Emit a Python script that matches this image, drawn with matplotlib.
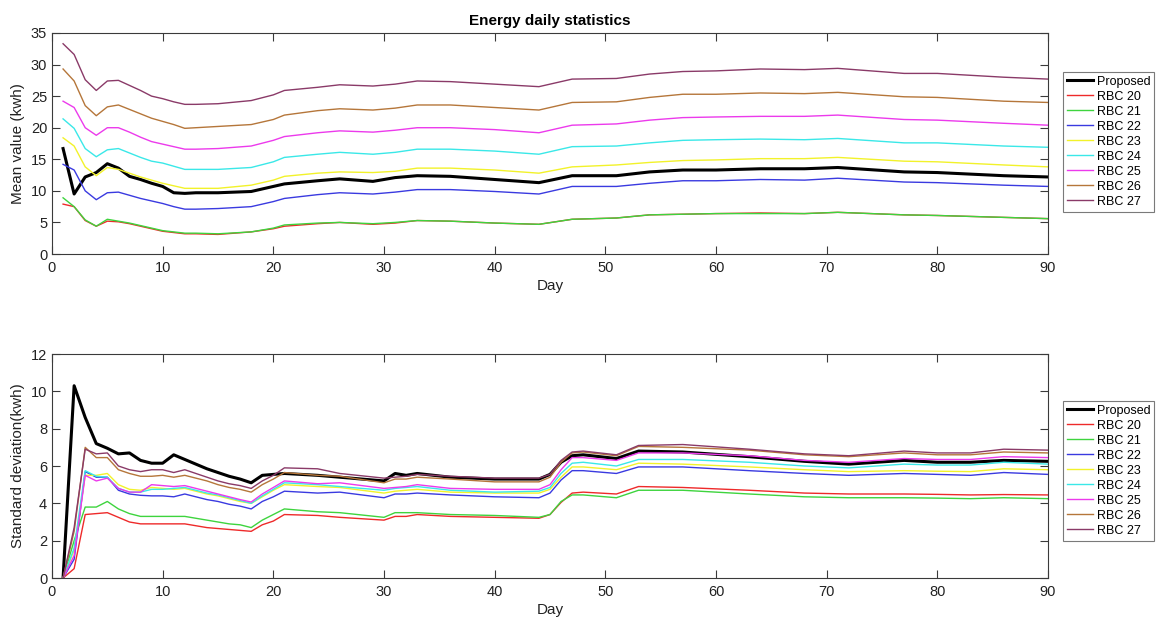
import matplotlib
matplotlib.use("Agg")
import matplotlib.pyplot as plt

plt.rcParams["font.family"] = ["Liberation Sans", "DejaVu Sans"]

labels = ["Proposed", "RBC 20", "RBC 21", "RBC 22", "RBC 23",
          "RBC 24", "RBC 25", "RBC 26", "RBC 27"]

# ---- mean energy per day ----
mean_days = [1, 2, 3, 4, 5, 6, 7, 8, 9, 10, 11, 12, 13, 15, 18, 20, 21, 24, 26,
             29, 31, 33, 36, 40, 44, 47, 51, 54, 57, 60, 64, 68, 71, 77, 80, 86, 90]

mean_proposed = [16.7, 9.5, 12.2, 12.9, 14.3, 13.6, 12.3, 11.8, 11.2, 10.7, 9.7, 9.6, 9.7, 9.7, 9.9,
                 10.7, 11.1, 11.6, 11.9, 11.5, 12.1, 12.4, 12.3, 11.8, 11.3, 12.4, 12.4, 13.0, 13.3,
                 13.3, 13.5, 13.5, 13.7, 13.0, 12.9, 12.4, 12.2]
mean_rbc20 = [7.9, 7.5, 5.3, 4.4, 5.2, 5.1, 4.8, 4.4, 4.0, 3.6, 3.4, 3.2, 3.2, 3.1, 3.5,
              4.0, 4.4, 4.8, 5.0, 4.7, 4.9, 5.3, 5.2, 4.9, 4.7, 5.5, 5.7, 6.2, 6.3,
              6.4, 6.5, 6.4, 6.6, 6.2, 6.1, 5.8, 5.6]
mean_rbc21 = [8.9, 7.5, 5.4, 4.4, 5.5, 5.2, 4.9, 4.5, 4.1, 3.7, 3.5, 3.3, 3.3, 3.2, 3.5,
              4.1, 4.6, 4.9, 5.0, 4.8, 5.0, 5.3, 5.2, 4.9, 4.7, 5.5, 5.7, 6.2, 6.3,
              6.4, 6.4, 6.4, 6.6, 6.2, 6.1, 5.8, 5.6]
mean_rbc22 = [14.2, 13.3, 10.0, 8.6, 9.7, 9.8, 9.3, 8.8, 8.4, 8.0, 7.5, 7.1, 7.1, 7.2, 7.5,
              8.3, 8.8, 9.4, 9.7, 9.5, 9.8, 10.2, 10.2, 9.9, 9.5, 10.7, 10.7, 11.2, 11.6,
              11.6, 11.8, 11.7, 12.0, 11.4, 11.3, 10.9, 10.7]
mean_rbc23 = [18.4, 17.1, 13.8, 12.4, 13.7, 13.4, 12.8, 12.2, 11.7, 11.2, 10.8, 10.4, 10.4, 10.4, 10.9,
              11.7, 12.3, 12.8, 13.0, 12.9, 13.1, 13.6, 13.6, 13.3, 12.8, 13.8, 14.1, 14.5, 14.8,
              14.9, 15.1, 15.1, 15.3, 14.7, 14.6, 14.1, 13.8]
mean_rbc24 = [21.4, 19.9, 16.7, 15.4, 16.5, 16.7, 16.0, 15.3, 14.7, 14.4, 13.9, 13.4, 13.4, 13.4, 13.7,
              14.6, 15.3, 15.8, 16.1, 15.8, 16.1, 16.6, 16.6, 16.3, 15.8, 17.0, 17.1, 17.6, 18.0,
              18.1, 18.2, 18.1, 18.3, 17.6, 17.6, 17.1, 16.9]
mean_rbc25 = [24.2, 23.2, 20.0, 18.8, 20.0, 20.0, 19.3, 18.5, 17.8, 17.4, 17.0, 16.6, 16.6, 16.7, 17.1,
              18.0, 18.6, 19.2, 19.5, 19.3, 19.6, 20.0, 20.0, 19.7, 19.2, 20.4, 20.6, 21.2, 21.6,
              21.7, 21.8, 21.8, 22.0, 21.3, 21.2, 20.7, 20.4]
mean_rbc26 = [29.3, 27.4, 23.5, 21.9, 23.3, 23.6, 22.9, 22.2, 21.5, 21.0, 20.5, 19.9, 20.0, 20.2, 20.5,
              21.3, 22.0, 22.7, 23.0, 22.8, 23.1, 23.6, 23.6, 23.2, 22.8, 24.0, 24.1, 24.8, 25.3,
              25.3, 25.5, 25.4, 25.6, 24.9, 24.8, 24.2, 24.0]
mean_rbc27 = [33.3, 31.6, 27.6, 25.9, 27.4, 27.5, 26.7, 25.9, 25.0, 24.6, 24.1, 23.7, 23.7, 23.8, 24.3,
              25.2, 25.9, 26.4, 26.8, 26.6, 26.9, 27.4, 27.3, 26.9, 26.5, 27.7, 27.8, 28.5, 28.9,
              29.0, 29.3, 29.2, 29.4, 28.6, 28.6, 28.0, 27.7]

# ---- standard deviation per day ----
std_days = [1, 2, 3, 4, 5, 6, 7, 8, 9, 10, 11, 12, 13, 14, 15, 16, 17, 18, 19, 20, 21, 24, 26,
            30, 31, 32, 33, 36, 40, 44, 45, 46, 47, 48, 51, 53, 57, 63, 68, 72, 77, 80, 83, 86, 90]

std_proposed = [0, 10.3, 8.6, 7.2, 6.95, 6.65, 6.7, 6.3, 6.15, 6.15, 6.6, 6.35, 6.1, 5.85, 5.65, 5.45,
                5.3, 5.1, 5.5, 5.55, 5.6, 5.5, 5.4, 5.2, 5.6, 5.5, 5.6, 5.4, 5.3, 5.3, 5.55, 6.2,
                6.55, 6.6, 6.4, 6.8, 6.75, 6.5, 6.25, 6.1, 6.3, 6.2, 6.2, 6.3, 6.25]
std_rbc20 = [0, 0.5, 3.4, 3.45, 3.5, 3.25, 3.0, 2.9, 2.9, 2.9, 2.9, 2.9, 2.8, 2.7, 2.65, 2.6,
             2.55, 2.5, 2.85, 3.05, 3.4, 3.35, 3.25, 3.1, 3.3, 3.3, 3.4, 3.3, 3.25, 3.2, 3.4, 4.05,
             4.55, 4.6, 4.5, 4.9, 4.85, 4.7, 4.55, 4.5, 4.5, 4.48, 4.45, 4.47, 4.45]
std_rbc21 = [0, 2.0, 3.8, 3.8, 4.1, 3.7, 3.45, 3.3, 3.3, 3.3, 3.3, 3.3, 3.2, 3.1, 3.0, 2.9,
             2.85, 2.7, 3.1, 3.4, 3.7, 3.55, 3.5, 3.25, 3.5, 3.5, 3.5, 3.4, 3.35, 3.25, 3.4, 4.1,
             4.45, 4.45, 4.3, 4.7, 4.7, 4.5, 4.35, 4.3, 4.3, 4.28, 4.25, 4.3, 4.25]
std_rbc22 = [0, 1.0, 5.7, 5.4, 5.4, 4.7, 4.5, 4.43, 4.4, 4.4, 4.35, 4.5, 4.35, 4.2, 4.1, 3.95,
             3.85, 3.7, 4.1, 4.35, 4.65, 4.55, 4.6, 4.3, 4.5, 4.5, 4.55, 4.45, 4.35, 4.3, 4.55, 5.25,
             5.75, 5.75, 5.6, 5.95, 5.95, 5.75, 5.6, 5.5, 5.6, 5.55, 5.5, 5.65, 5.55]
std_rbc23 = [0, 1.5, 5.5, 5.5, 5.6, 5.0, 4.75, 4.7, 4.85, 4.8, 4.75, 4.8, 4.65, 4.5, 4.4, 4.25,
             4.1, 4.0, 4.35, 4.7, 5.0, 4.9, 4.85, 4.55, 4.65, 4.7, 4.75, 4.6, 4.55, 4.55, 4.75, 5.4,
             5.95, 5.95, 5.8, 6.15, 6.1, 5.95, 5.8, 5.7, 5.75, 5.72, 5.7, 5.85, 5.8]
std_rbc24 = [0, 1.6, 5.75, 5.45, 5.4, 4.8, 4.6, 4.6, 4.75, 4.75, 4.8, 4.85, 4.7, 4.55, 4.45, 4.3,
             4.15, 4.0, 4.4, 4.75, 5.1, 5.0, 4.9, 4.7, 4.8, 4.85, 4.9, 4.7, 4.6, 4.65, 4.85, 5.6,
             6.15, 6.2, 6.0, 6.35, 6.35, 6.2, 6.0, 5.9, 6.1, 6.05, 6.05, 6.2, 6.1]
std_rbc25 = [0, 1.2, 5.5, 5.2, 5.35, 4.8, 4.6, 4.6, 5.0, 4.95, 4.9, 4.95, 4.8, 4.65, 4.5, 4.35,
             4.2, 4.07, 4.5, 4.85, 5.2, 5.05, 5.1, 4.8, 4.85, 4.9, 5.0, 4.8, 4.75, 4.75, 5.0, 5.8,
             6.45, 6.45, 6.3, 6.7, 6.7, 6.55, 6.3, 6.2, 6.4, 6.35, 6.35, 6.5, 6.45]
std_rbc26 = [0, 2.5, 7.0, 6.45, 6.45, 5.8, 5.6, 5.45, 5.45, 5.5, 5.4, 5.5, 5.35, 5.2, 5.0, 4.85,
             4.75, 4.6, 5.0, 5.3, 5.65, 5.5, 5.45, 5.1, 5.3, 5.3, 5.4, 5.3, 5.15, 5.15, 5.4, 6.2,
             6.7, 6.75, 6.55, 7.05, 7.0, 6.85, 6.6, 6.5, 6.7, 6.6, 6.6, 6.75, 6.7]
std_rbc27 = [0, 2.7, 6.9, 6.65, 6.7, 6.0, 5.8, 5.7, 5.8, 5.8, 5.65, 5.8, 5.6, 5.4, 5.2, 5.05,
             4.95, 4.8, 5.2, 5.5, 5.9, 5.85, 5.6, 5.35, 5.4, 5.45, 5.55, 5.45, 5.35, 5.35, 5.55, 6.3,
             6.75, 6.8, 6.6, 7.1, 7.15, 6.9, 6.65, 6.55, 6.8, 6.7, 6.7, 6.9, 6.85]

colors = ["black", "#ee2a2a", "#3ed43e", "#3a3ae0", "#f2f22a",
          "#3ae8e8", "#ec3aec", "#b5763a", "#8a3a68"]
widths = [2.2] + [1.0] * 8

mean_series = [mean_proposed, mean_rbc20, mean_rbc21, mean_rbc22, mean_rbc23,
               mean_rbc24, mean_rbc25, mean_rbc26, mean_rbc27]
std_series = [std_proposed, std_rbc20, std_rbc21, std_rbc22, std_rbc23,
              std_rbc24, std_rbc25, std_rbc26, std_rbc27]

W, H = 1160, 619
fig = plt.figure(figsize=(W / 100, H / 100), dpi=100)


def fig_rect(left, top, right, bottom):
    return [left / W, 1 - bottom / H, (right - left) / W, (bottom - top) / H]


ax1 = fig.add_axes(fig_rect(52, 33, 1048, 254))
ax2 = fig.add_axes(fig_rect(52, 354, 1048, 578))

edge = "#3a3a3a"


def style(ax, ymax, ystep, ylabel):
    ax.set_xlim(0, 90)
    ax.set_ylim(0, ymax)
    ax.set_xticks(range(0, 91, 10))
    ax.set_yticks(range(0, ymax + 1, ystep))
    ax.tick_params(direction="in", top=True, right=True, length=6, width=0.8,
                   colors=edge, labelcolor="#222222", labelsize=10.5)
    ax.tick_params(axis="x", pad=5)
    for s in ax.spines.values():
        s.set_color(edge)
        s.set_linewidth(0.8)
    ax.set_xlabel("Day", fontsize=11, color="#222222", labelpad=3)
    ax.set_ylabel(ylabel, fontsize=11, color="#222222", labelpad=4)


for vals, c, lw, lab in zip(mean_series, colors, widths, labels):
    ax1.plot(mean_days, vals, color=c, lw=lw, label=lab)
for vals, c, lw, lab in zip(std_series, colors, widths, labels):
    ax2.plot(std_days, vals, color=c, lw=lw, label=lab)

style(ax1, 35, 5, "Mean value (kwh)")
style(ax2, 12, 2, "Standard deviation(kwh)")
ax1.set_title("Energy daily statistics", fontsize=11, fontweight="bold", pad=6)

for ax, top in ((ax1, 72), (ax2, 401)):
    leg = ax.legend(loc="upper left", bbox_to_anchor=(1063 / W, 1 - top / H),
                    bbox_transform=fig.transFigure, fontsize=9, frameon=True,
                    fancybox=False, framealpha=1, edgecolor="#7a7a7a",
                    handlelength=2.1, handletextpad=0.3, labelspacing=0.24,
                    borderpad=0.3, borderaxespad=0)
    leg.get_frame().set_linewidth(0.8)
    for ln in leg.get_lines():
        ln.set_linewidth(1.0 if ln.get_color() != "black" else 2.2)

fig.savefig("out.png", dpi=100)
